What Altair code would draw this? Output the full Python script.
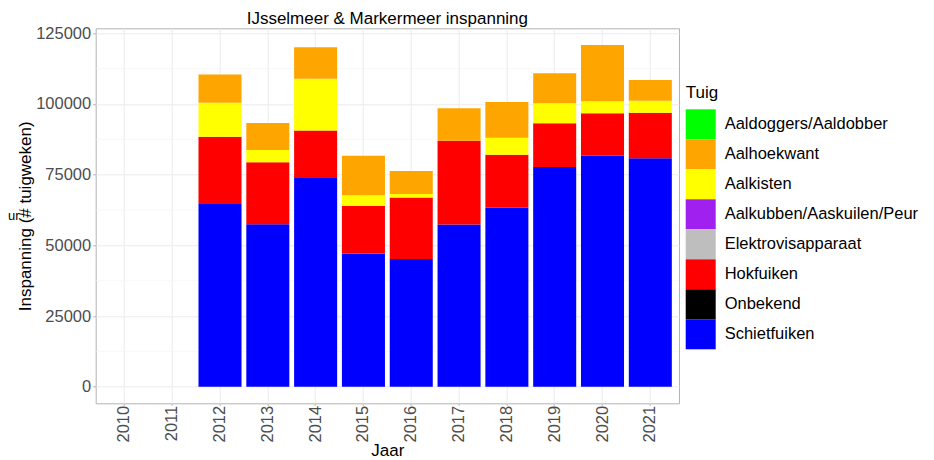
import altair as alt
import pandas as pd

# ---- data ----
years = [str(y) for y in range(2010, 2022)]
data_years = ["2012", "2013", "2014", "2015", "2016", "2017", "2018", "2019", "2020", "2021"]

tuig = ["Aaldoggers/Aaldobber", "Aalhoekwant", "Aalkisten", "Aalkubben/Aaskuilen/Peur",
        "Elektrovisapparaat", "Hokfuiken", "Onbekend", "Schietfuiken"]
colors = ["#00FF00", "#FFA500", "#FFFF00", "#A020F0", "#BEBEBE", "#FF0000", "#000000", "#0000FF"]

schietfuiken = [64600, 57500, 73800, 47100, 45200, 57400, 63300, 77700, 81700, 80800]
hokfuiken = [23800, 21900, 16800, 16900, 21700, 29600, 18700, 15500, 15000, 16100]
aalkisten = [12000, 4300, 18300, 3700, 1300, 0, 6100, 7100, 4300, 4200]
aalhoekwant = [10000, 9600, 11200, 14000, 8100, 11500, 12600, 10600, 19900, 7400]

y_ticks = [0, 25000, 50000, 75000, 100000, 125000]
y_minor = [12500, 37500, 62500, 87500, 112500]

title_text = "IJsselmeer & Markermeer inspanning"
clipped_text = "ur"

series = {
    "Schietfuiken": schietfuiken,
    "Hokfuiken": hokfuiken,
    "Aalkisten": aalkisten,
    "Aalhoekwant": aalhoekwant,
}

rows = []
for name, vals in series.items():
    for yr, v in zip(data_years, vals):
        rows.append({"Jaar": yr, "Tuig": name, "waarde": v, "rank": tuig.index(name)})
df = pd.DataFrame(rows)

FONT = "Liberation Sans"
W, H = 583.3, 375
y_scale = alt.Scale(domain=[-5870, 126770], nice=False, zero=False)
y_axis = alt.Axis(
    title="Inspanning (# tuigweken)", values=y_ticks, format="d",
    labelColor="#4d4d4d", labelFontSize=16.5, labelPadding=2,
    tickColor="#b3b3b3", tickSize=3, domain=False,
    grid=True, gridColor="#ebebeb", gridWidth=1,
    titleFontSize=17, titleColor="black", titleFontWeight="normal", titlePadding=1,
)
x_scale = alt.Scale(domain=years, paddingInner=0.1, paddingOuter=0.15)
x_axis = alt.Axis(
    title="Jaar", labelAngle=270, labelAlign="right", labelBaseline="middle",
    labelColor="#4d4d4d", labelFontSize=16.5, labelPadding=0,
    tickColor="#b3b3b3", tickSize=2, domain=False, bandPosition=0.5,
    grid=True, gridColor="#ebebeb", gridWidth=1,
    titleFontSize=17, titleColor="black", titleFontWeight="normal", titlePadding=0,
)

minor = alt.Chart(pd.DataFrame({"waarde": y_minor})).mark_rule(
    color="#f3f3f3", strokeWidth=0.6
).encode(y=alt.Y("waarde:Q", scale=y_scale, axis=y_axis))

bars = alt.Chart(df).mark_bar().encode(
    x=alt.X("Jaar:N", scale=x_scale, axis=x_axis),
    y=alt.Y("waarde:Q", stack="zero", scale=y_scale, axis=y_axis),
    color=alt.Color(
        "Tuig:N",
        scale=alt.Scale(domain=tuig, range=colors),
        legend=alt.Legend(
            title="Tuig", orient="none", legendX=590, legendY=57,
            symbolType="square", symbolSize=900, symbolStrokeWidth=0,
            symbolOpacity=1, rowPadding=0, labelOffset=9,
            labelFontSize=16.5, labelColor="black", labelLimit=400,
            titleFontSize=17, titleFontWeight="normal", titleColor="black",
            titlePadding=7, padding=0,
        ),
    ),
    order=alt.Order("rank:Q", sort="descending"),
)

title = alt.Chart(pd.DataFrame({"t": [title_text]})).mark_text(
    align="center", baseline="alphabetic", fontSize=17, font=FONT, color="black"
).encode(text="t:N", x=alt.value(W / 2), y=alt.value(-4))

ur = alt.Chart(pd.DataFrame({"t": [clipped_text]})).mark_text(
    align="left", baseline="alphabetic", fontSize=13, font=FONT, color="black"
).encode(text="t:N", x=alt.value(-87.7), y=alt.value(191.7))

chart = alt.layer(minor, bars, title, ur).properties(
    width=W, height=H,
    autosize=alt.AutoSizeParams(type="none"),
    padding={"left": 87.7, "top": 20.3, "right": 245, "bottom": 56},
).configure(font=FONT).configure_view(stroke="#b3b3b3", strokeWidth=1)

chart.save("out.html", embed_options={"renderer": "svg", "actions": False})
